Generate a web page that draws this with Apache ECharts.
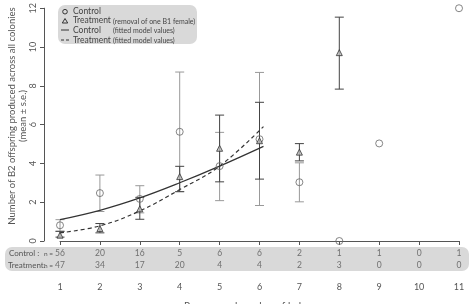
<!DOCTYPE html>
<html><head><meta charset="utf-8">
<script src="https://cdn.jsdelivr.net/npm/echarts@6/dist/echarts.min.js"></script>
<style>html,body{margin:0;padding:0;background:#fff}#c{width:473px;height:304px}</style>
</head><body><div id="c"></div>
<script>
var helpers = [1,2,3,4,5,6,7,8,9,10,11];
var controlMean = [0.81, 2.47, 2.17, 5.63, 3.86, 5.25, 3.03, 0, 5.03, null, 12];
var controlLo   = [0.5, 1.52, 1.45, 2.55, 2.08, 1.83, 2.02, null, null, null, null];
var controlHi   = [1.1, 3.4, 2.85, 8.71, 5.6, 8.69, 4.03, null, null, null, null];
var treatMean = [0.3, 0.64, 1.66, 3.32, 4.78, 5.17, 4.58, 9.71, null, null, null];
var treatLo   = [0.2, 0.42, 1.12, 2.54, 3.05, 3.19, 4.13, 7.83, null, null, null];
var treatHi   = [0.5, 0.9, 2.25, 3.85, 6.49, 7.15, 5.02, 11.54, null, null, null];
var fitX = [1, 2, 3, 4, 5, 6.1];
var fitControl = [1.1, 1.58, 2.22, 3.0, 3.86, 4.88];
var fitTreat = [0.42, 0.78, 1.55, 2.65, 3.86, 5.9];
var controlN = [56,20,16,5,6,6,2,1,1,0,1];
var treatN = [47,34,17,20,4,4,2,3,0,0,0];
var yTicks = [0,2,4,6,8,10,12];

var FONT = 'Lato';
function pts(xs, ys){ var r=[]; for (var i=0;i<xs.length;i++){ if (ys[i]!=null) r.push([xs[i], ys[i]]); } return r; }
function bars(lo, hi){ var r=[]; for (var i=0;i<helpers.length;i++){ if (lo[i]!=null) r.push([helpers[i], lo[i], hi[i]]); } return r; }
function errRender(color){
  return function(params, api){
    var x = api.value(0);
    var p1 = api.coord([x, api.value(1)]);
    var p2 = api.coord([x, api.value(2)]);
    var w = 4.5;
    var st = {stroke: color, lineWidth: 1};
    return {type:'group', children:[
      {type:'line', shape:{x1:p1[0], y1:p1[1], x2:p2[0], y2:p2[1]}, style: st},
      {type:'line', shape:{x1:p1[0]-w, y1:p1[1], x2:p1[0]+w, y2:p1[1]}, style: st},
      {type:'line', shape:{x1:p2[0]-w, y1:p2[1], x2:p2[0]+w, y2:p2[1]}, style: st}
    ]};
  };
}
function txt(x, y, s, size, color, extra){
  var st = {text:s, fill:color, fontSize:size, fontFamily:FONT, align:'left', verticalAlign:'middle'};
  if (extra) for (var k in extra) st[k]=extra[k];
  return {type:'text', x:x, y:y, style:st};
}
var chart = echarts.init(document.getElementById('c'));
var lblColor = '#555';
var g = [
  {type:'rect', shape:{x:5, y:247, width:464, height:24, r:7}, style:{fill:'#d9d9d9'}, z:-1},
  txt(9, 253, 'Control :', 8, lblColor),
  txt(8, 265, 'Treatment:', 8, lblColor),
  txt(44, 253.5, 'n =', 6.5, lblColor),
  txt(44, 265.5, 'n =', 6.5, lblColor),
  {type:'rect', shape:{x:58, y:5, width:139, height:39, r:7}, style:{fill:'#d9d9d9'}, z:-1},
  {type:'circle', shape:{cx:65, cy:11.7, r:2.3}, style:{fill:'none', stroke:'#333', lineWidth:1}},
  {type:'polygon', shape:{points:[[65,18.5],[62.3,23],[67.7,23]]}, style:{fill:'none', stroke:'#333', lineWidth:1}},
  {type:'line', shape:{x1:61, y1:30, x2:69, y2:30}, style:{stroke:'#333', lineWidth:1}},
  {type:'line', shape:{x1:61, y1:40, x2:69, y2:40}, style:{stroke:'#333', lineWidth:1, lineDash:[3,2]}},
  txt(73, 11.7, 'Control', 8.5, '#444'),
  txt(73, 20.7, 'Treatment', 8.5, '#444'),
  txt(73, 30, 'Control', 8.5, '#444'),
  txt(73, 40, 'Treatment', 8.5, '#444'),
  txt(113, 21.5, '(removal of one B1 female)', 7, '#444'),
  txt(113, 30.8, '(fitted model values)', 7, '#444'),
  txt(113, 40.8, '(fitted model values)', 7, '#444'),
  txt(252, 306, 'Pre-removal number of helpers', 10, lblColor, {align:'center'})
];
var t1 = txt(12, 116, 'Number of B2 offspring produced across all colonies', 9.5, lblColor, {align:'center'}); t1.rotation = Math.PI/2;
var t2 = txt(22.5, 116, '(mean \u00b1 s.e.)', 9.5, lblColor, {align:'center'}); t2.rotation = Math.PI/2;
g.push(t1, t2);

chart.setOption({
  animation: false,
  textStyle: {fontFamily: FONT},
  grid: [
    {left: 60, right: 14, top: 4.7, bottom: 63},
    {left: 60, right: 14, top: 247, height: 24}
  ],
  xAxis: [
    {type:'value', gridIndex:0, min:1, max:11, interval:1, offset:36,
     axisLine:{lineStyle:{color:'#555', width:1}}, axisTick:{length:4, lineStyle:{color:'#555'}},
     axisLabel:{color:lblColor, fontSize:9, margin:6, fontFamily:FONT}, splitLine:{show:false}},
    {type:'value', gridIndex:1, min:1, max:11, show:false}
  ],
  yAxis: [
    {type:'value', gridIndex:0, min:0, max:12, interval:2, offset:16,
     axisLine:{show:true, lineStyle:{color:'#555', width:1}}, axisTick:{show:true, length:4, lineStyle:{color:'#555'}},
     axisLabel:{color:lblColor, fontSize:9, rotate:90, margin:6, fontFamily:FONT}, splitLine:{show:false}},
    {type:'value', gridIndex:1, min:0, max:2, show:false}
  ],
  graphic: g,
  series: [
    {type:'custom', xAxisIndex:0, yAxisIndex:0, renderItem: errRender('#999'), data: bars(controlLo, controlHi), z:2},
    {type:'custom', xAxisIndex:0, yAxisIndex:0, renderItem: errRender('#444'), data: bars(treatLo, treatHi), z:3},
    {type:'line', xAxisIndex:0, yAxisIndex:0, data: pts(fitX, fitControl), smooth:0.4, showSymbol:false, lineStyle:{color:'#333', width:1.2}, z:4},
    {type:'line', xAxisIndex:0, yAxisIndex:0, data: pts(fitX, fitTreat), smooth:0.4, showSymbol:false, lineStyle:{color:'#333', width:1.2, type:[4,3]}, z:4},
    {type:'scatter', xAxisIndex:0, yAxisIndex:0, data: pts(helpers, controlMean), symbol:'circle', symbolSize:7, clip:false,
     itemStyle:{color:'rgba(0,0,0,0)', borderColor:'#666', borderWidth:1}, z:5},
    {type:'scatter', xAxisIndex:0, yAxisIndex:0, data: pts(helpers, treatMean), symbol:'triangle', symbolSize:6, clip:false,
     itemStyle:{color:'#bbb', borderColor:'#333', borderWidth:1}, z:6},
    {type:'scatter', xAxisIndex:1, yAxisIndex:1, symbolSize:0, silent:true,
     data: helpers.map(function(h,i){ return [h, 1.5, controlN[i]]; }),
     label:{show:true, position:'inside', formatter:function(p){return String(p.value[2]);}, color:lblColor, fontSize:8.5, fontFamily:FONT}},
    {type:'scatter', xAxisIndex:1, yAxisIndex:1, symbolSize:0, silent:true,
     data: helpers.map(function(h,i){ return [h, 0.5, treatN[i]]; }),
     label:{show:true, position:'inside', formatter:function(p){return String(p.value[2]);}, color:lblColor, fontSize:8.5, fontFamily:FONT}}
  ]
});
</script></body></html>
